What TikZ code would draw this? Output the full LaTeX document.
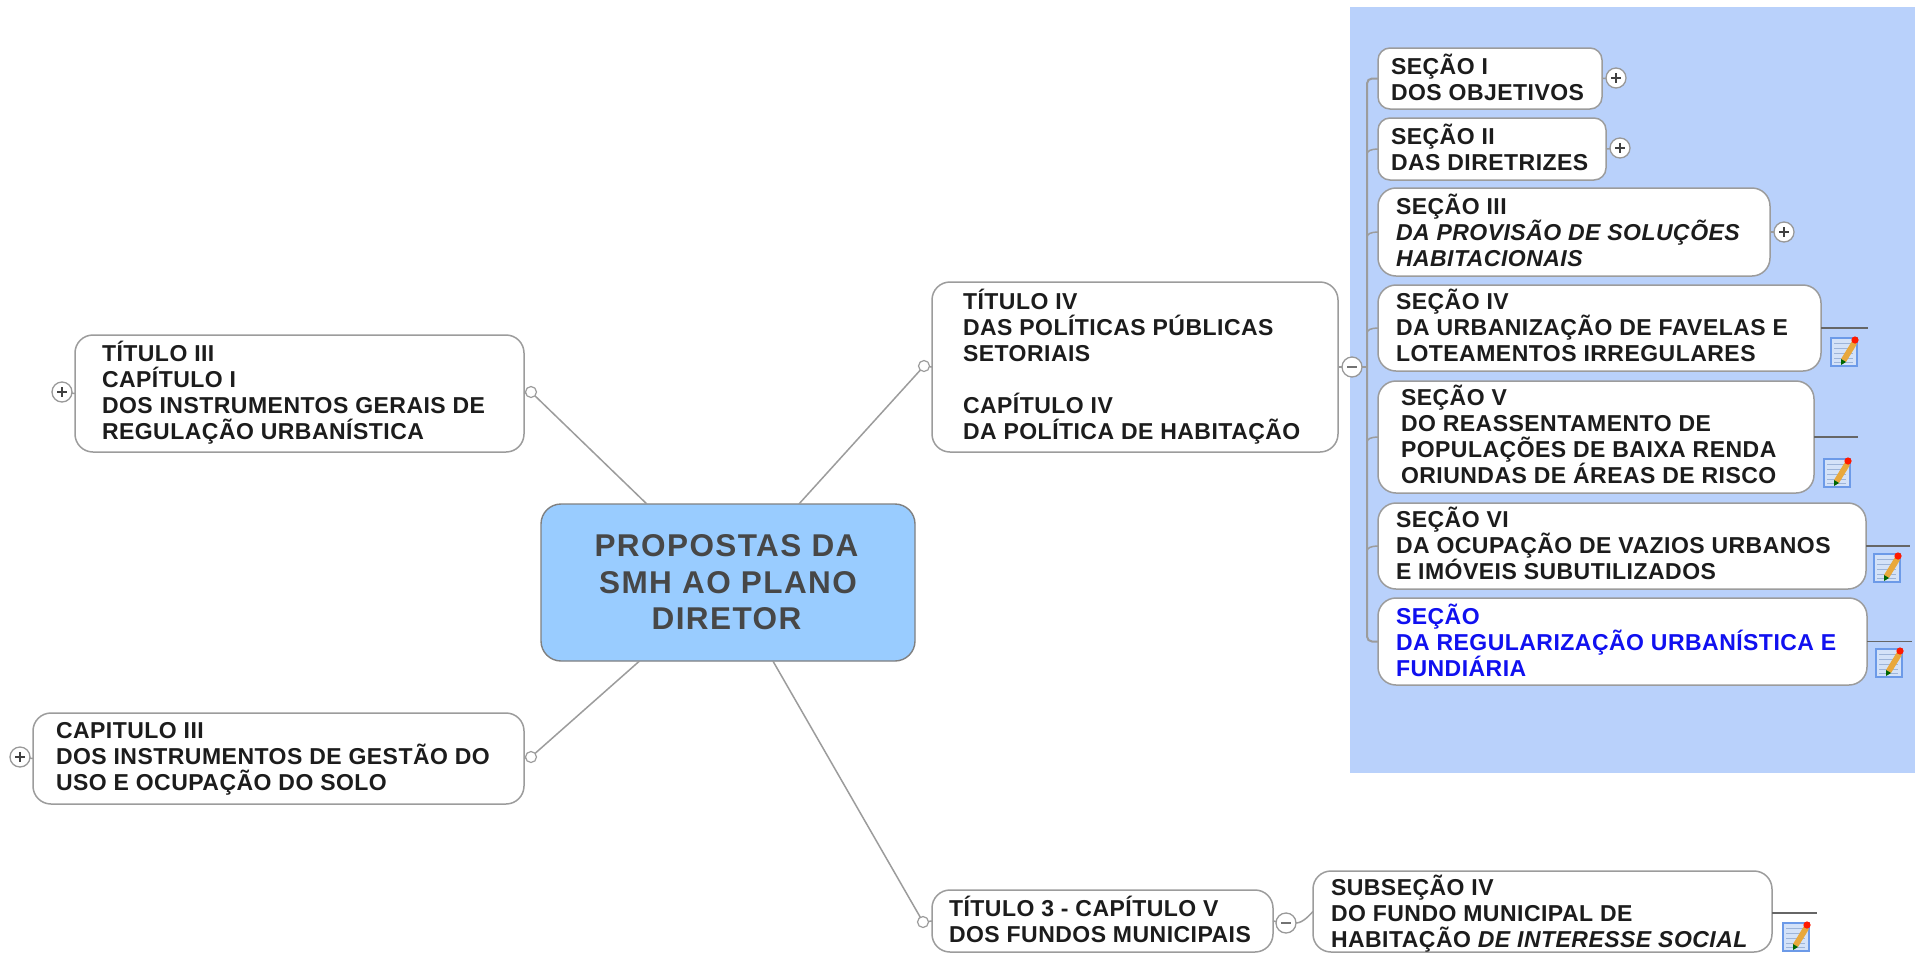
\documentclass[tikz,border=0pt]{standalone}
\usepackage{fontspec}
\setmainfont[LetterSpace=2.05]{Liberation Sans}
\newfontfamily\centrefont[LetterSpace=4.5]{Liberation Sans}
\usetikzlibrary{calc}
\definecolor{panelblue}{HTML}{B9D1FB}
\definecolor{centreblue}{HTML}{99CCFF}
\definecolor{edgegray}{HTML}{9C9C9C}
\definecolor{inkdark}{HTML}{1C1C1C}
\definecolor{sectionblue}{HTML}{1010F0}
\definecolor{notepale}{HTML}{D4E2F8}
\definecolor{noteline}{HTML}{6C9AE8}
\definecolor{notestripe}{HTML}{9DB4D8}
\definecolor{pencil}{HTML}{E8A83C}
\tikzset{
  x=1pt,y=-1pt,
  textup/.store in=\textraise,
  topic/.style={textup=0,draw=edgegray,line width=1.5pt,fill=white,rounded corners=18pt,
    text=inkdark,inner ysep=0pt,outer sep=0pt,font=\fontsize{23}{26}\selectfont\bfseries},
  centretopic/.style={draw=gray,line width=1.4pt,fill=centreblue,rounded corners=20pt,align=center,
    text=black!72,inner sep=0pt,outer sep=0pt,font=\centrefont\fontsize{31.5}{36.5}\selectfont\bfseries},
  branch/.style={draw=edgegray,line width=1.5pt},
  dot/.style={circle,draw=edgegray,line width=1.2pt,fill=white,minimum size=11pt,inner sep=0pt,outer sep=0pt},
  toggle/.style={circle,draw=black!40,line width=1.3pt,fill=white,minimum size=20pt,inner sep=0pt,outer sep=0pt},
  plusbox/.style={toggle,path picture={\draw[black!75,line width=1.7pt]
     ($(path picture bounding box.center)+(-5,0)$)--($(path picture bounding box.center)+(5,0)$)
     ($(path picture bounding box.center)+(0,-5)$)--($(path picture bounding box.center)+(0,5)$);}},
  minusbox/.style={toggle,path picture={\draw[black!55,line width=2.4pt]
     ($(path picture bounding box.center)+(-5,0)$)--($(path picture bounding box.center)+(5,0)$);}},
  note/.pic={
    \draw[noteline,line width=1.6pt,fill=notepale] (-13,-14) rectangle (13,14);
    \foreach \ly in {-9,-4,1,6,10}{\draw[notestripe,line width=.9pt] (-10,\ly)--(9,\ly);}
    \fill[pencil] (-3,7)--(8,-11)--(13,-8)--(2,10)--cycle;
    \fill[black!60!green] (-3,7)--(2,10)--(-3,13)--cycle;
    \fill[red!80!orange] (11,-12) circle (3.6);
  }
}
\newcommand{\topicbox}[8][]{%
  \pgfmathsetmacro\boxw{#5-#3}\pgfmathsetmacro\boxh{#6-#4}\pgfmathsetmacro\textw{\boxw-2*#7}%
  \node[topic,#1,minimum height=\boxh pt,inner xsep=#7pt] (#2)
     at ({(#3+#5)/2},{(#4+#6)/2})
     {\raisebox{\textraise pt}[\height][\depth]{\parbox{\textw pt}{\raggedright #8}}};}
\newcommand{\twig}[1]{\draw[branch] (#1.west) .. controls ($(#1.west)+(-7,0)$) and ($(#1.west -| bar)+(0,2)$) .. ($(#1.west -| bar)+(0,5)$);}
\begin{document}
\begin{tikzpicture}
\useasboundingbox (0,0) rectangle (1915,954);
\fill[white] (0,0) rectangle (1915,954);
\fill[panelblue] (1350,7) rectangle (1915,773);

% central topic
\node[centretopic,minimum width=374pt,minimum height=157pt] (cen) at (728,582.5) {PROPOSTAS DA\hspace*{3pt}\\SMH AO PLANO\hspace*{3pt}\\DIRETOR\hspace*{3pt}};

% first level
\topicbox[textup=1.2]{t3}{75}{335}{524}{452}{27}{TÍTULO III\\CAPÍTULO I\\DOS INSTRUMENTOS GERAIS DE\\REGULAÇÃO URBANÍSTICA}
\topicbox[textup=0.7]{t4}{932}{282}{1338}{452}{31}{TÍTULO IV\\DAS POLÍTICAS PÚBLICAS\\SETORIAIS\\\mbox{}\\CAPÍTULO IV\\DA POLÍTICA DE HABITAÇÃO}
\topicbox{c3}{33}{713}{524}{804}{23}{CAPITULO III\\DOS INSTRUMENTOS DE GESTÃO DO\\USO E OCUPAÇÃO DO SOLO}
\topicbox[textup=1.2]{t5}{932}{890}{1273}{952}{17}{TÍTULO 3 - CAPÍTULO V\\DOS FUNDOS MUNICIPAIS}
\topicbox[textup=-2]{sub}{1313}{871}{1772}{952}{18}{SUBSEÇÃO IV\\DO FUNDO MUNICIPAL DE\\HABITAÇÃO \textit{DE INTERESSE SOCIAL}}

% sections
\topicbox[rounded corners=12pt,textup=1.5]{s1}{1378}{48}{1602}{109}{13}{SEÇÃO I\\DOS OBJETIVOS}
\topicbox[rounded corners=12pt,textup=1.5]{s2}{1378}{118}{1606}{180}{13}{SEÇÃO II\\DAS DIRETRIZES}
\topicbox[textup=2]{s3}{1378}{188}{1770}{276}{18}{SEÇÃO III\\\textit{DA PROVISÃO DE SOLUÇÕES}\\\textit{HABITACIONAIS}}
\topicbox[textup=2.4]{s4}{1378}{285}{1821}{371}{18}{SEÇÃO IV\\DA URBANIZAÇÃO DE FAVELAS E\\LOTEAMENTOS IRREGULARES}
\topicbox[textup=3]{s5}{1378}{381}{1814}{493}{23}{SEÇÃO V\\DO REASSENTAMENTO DE\\POPULAÇÕES DE BAIXA RENDA\\ORIUNDAS DE ÁREAS DE RISCO}
\topicbox[textup=2.5]{s6}{1378}{503}{1866}{589}{18}{SEÇÃO VI\\DA OCUPAÇÃO DE VAZIOS URBANOS\\E IMÓVEIS SUBUTILIZADOS}
\topicbox[text=sectionblue,textup=1.2]{s7}{1378}{598}{1867}{685}{18}{SEÇÃO\\DA REGULARIZAÇÃO URBANÍSTICA E\\FUNDIÁRIA}

% small link dots
\node[dot] (d3) at (531,392) {};
\node[dot] (d4) at (924,366) {};
\node[dot] (dc) at (531,757) {};
\node[dot] (d5) at (923,922) {};

% toggles
\node[plusbox] (p3) at (62,392) {};
\node[plusbox] (pc) at (20,757) {};
\node[minusbox] (m4) at (1352,367) {};
\node[minusbox] (m5) at (1286,923) {};
\node[plusbox] (p1) at (1616,78) {};
\node[plusbox] (p2) at (1620,148) {};
\node[plusbox] (ps3) at (1784,232) {};

% connectors
\draw[branch] (cen) -- (d3);
\draw[branch] (cen) -- (d4);
\draw[branch] (cen) -- (dc);
\draw[branch] (cen) -- (d5);
\draw[branch] (d3) -- (t3.east);
\draw[branch] (d4) -- (t4.west);
\draw[branch] (dc) -- (c3.east);
\draw[branch] (d5) -- (t5.west);
\draw[branch] (p3) -- (t3.west);
\draw[branch] (pc) -- (c3.west);
\draw[branch] (t4.east) -- (m4);
\draw[branch] (t5.east) -- (m5);
\draw[branch] (m5.east) .. controls +(7,0) and +(-3,3) .. (sub.west);
\draw[branch] (s1.east) -- (p1);
\draw[branch] (s2.east) -- (p2);
\draw[branch] (s3.east) -- (ps3);
\coordinate (bar) at (1367,367);
\draw[branch] (m4) -- (bar);
\draw[branch,line width=2pt,rounded corners=5pt] (s1.west) -- (s1.west -| bar) -- (s7.west -| bar) -- (s7.west);
\twig{s2}\twig{s3}\twig{s4}\twig{s5}\twig{s6}
% note stubs
\coordinate (e4) at (1868,328);
\coordinate (e5) at (1858,437);
\coordinate (e6) at (1910,545);
\coordinate (e7) at (1912,642);
\coordinate (es) at (1817,913);
\draw[black!60,line width=1.3pt] (s4.east) -- (s4.east -| e4);
\draw[black!60,line width=1.3pt] (s5.east) -- (s5.east -| e5);
\draw[black!60,line width=1.3pt] (s6.east) -- (s6.east -| e6);
\draw[black!60,line width=1.3pt] (s7.east) -- (s7.east -| e7);
\draw[black!60,line width=1.3pt] (sub.east |- es) -- (es);

% note icons
\pic at (1844,352) {note};
\pic at (1837,473) {note};
\pic at (1887,568) {note};
\pic at (1889,663) {note};
\pic at (1796,937) {note};
\end{tikzpicture}
\end{document}
